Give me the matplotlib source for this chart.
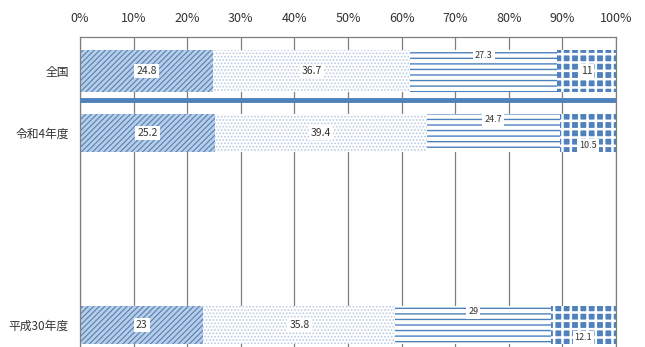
import numpy as np
import matplotlib
matplotlib.use("Agg")
from matplotlib import pyplot as plt

plt.rcParams['font.family'] = ['Noto Sans CJK JP', 'DejaVu Sans']
plt.rcParams['hatch.linewidth'] = 0.8

# データ
categories = ['全国', '令和4年度', '平成30年度']
seg1 = [24.8, 25.2, 23]
seg2 = [36.7, 39.4, 35.8]
seg3 = [27.3, 24.7, 29]
seg4 = [11, 10.5, 12.1]
ticks = [0, 10, 20, 30, 40, 50, 60, 70, 80, 90, 100]

# 位置・スタイル
ypos = [34, 96, 288]
heights = [42, 38, 38]
styles = [
    dict(facecolor='#b9cde5', edgecolor='#4f81bd', hatch='//////', hatch_linewidth=0.8),
    dict(facecolor='white', edgecolor='#b8cce4', hatch='.....', hatch_linewidth=0.8),
    dict(facecolor='white', edgecolor='#4f81bd', hatch='---', hatch_linewidth=1.0),
    dict(facecolor='#4f81bd', edgecolor='white', hatch='++', hatch_linewidth=1.8),
]
# ラベル位置 (セグメント内の縦位置: 0=中央, -1=上, 1=下)
label_pos = [
    [0, 0, -1, 0],
    [0, 0, -1, 1],
    [0, 0, -1, 1],
]

data = np.array([seg1, seg2, seg3, seg4]).T
pct = data / data.sum(axis=1, keepdims=True) * 100

fig = plt.figure(figsize=(6.45, 3.47), dpi=100)
ax = fig.add_axes([80 / 645, 0, 536 / 645, 1 - 37 / 347])

for i in range(len(categories)):
    left = 0
    for j in range(4):
        ax.barh(ypos[i], pct[i, j], left=left, height=heights[i],
                linewidth=0, zorder=2, **styles[j])
        dy = label_pos[i][j] * (heights[i] / 2 - 6)
        ax.text(left + pct[i, j] / 2, ypos[i] + dy, f"{data[i, j]:g}",
                ha='center', va='center', fontsize=7.5 if label_pos[i][j] == 0 else 6.5,
                color='#333333', zorder=4,
                bbox=dict(facecolor='white', edgecolor='none', pad=1.5))
        left += pct[i, j]

# 区切り線
ax.plot([0, 100], [63, 63], color='#4f81bd', linewidth=3.5, zorder=3, solid_capstyle='butt')

ax.set_xlim(0, 100)
ax.set_ylim(310, 0)
ax.xaxis.tick_top()
ax.set_xticks(ticks)
ax.set_xticklabels([f"{t}%" for t in ticks], fontsize=9, color='#333333')
ax.tick_params(axis='x', length=0, pad=9)
ax.set_yticks(ypos)
ax.set_yticklabels(categories, fontsize=8.5, color='#333333')
ax.tick_params(axis='y', length=0, pad=8)
ax.grid(axis='x', color='#7f7f7f', linewidth=0.9, zorder=1)
for s in ['top', 'left', 'right']:
    ax.spines[s].set_color('#7f7f7f')
    ax.spines[s].set_linewidth(0.9)
ax.spines['bottom'].set_visible(False)

plt.savefig('out.png', dpi=100)
